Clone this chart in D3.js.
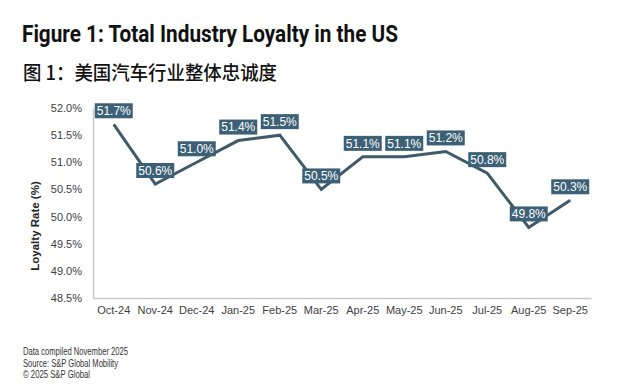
<!DOCTYPE html>
<html>
<head>
<meta charset="utf-8">
<script src="https://cdn.jsdelivr.net/npm/d3@7"></script>
<style>
    body { margin: 0; background: #fff; }
    svg { display: block; }
</style>
</head>
<body>
<div id="chart"></div>
<script>
// chart data
const months = ["Oct-24", "Nov-24", "Dec-24", "Jan-25", "Feb-25", "Mar-25",
    "Apr-25", "May-25", "Jun-25", "Jul-25", "Aug-25", "Sep-25"];
const loyalty = [51.7, 50.6, 51.0, 51.4, 51.5, 50.5, 51.1, 51.1, 51.2, 50.8, 49.8, 50.3];
const yTicks = [48.5, 49.0, 49.5, 50.0, 50.5, 51.0, 51.5, 52.0];
const footer = ["Data compiled November 2025", "Source: S&P Global Mobility", "\u00a9 2025 S&P Global"];
const footerWidths = [105, 95, 67];

const width = 620, height = 390;
const margin = {top: 108, right: 29, bottom: 92, left: 93};

const lineColor = "#3f5a6a";
const boxColor = "#3c6075";

let svg = d3.select("#chart").append("svg")
    .attr("width", width)
    .attr("height", height);

// titles
svg.append("text")
    .attr("x", 22)
    .attr("y", 42)
    .attr("font-family", "Roboto, 'Liberation Sans', sans-serif")
    .attr("font-weight", "bold")
    .attr("font-size", 23)
    .attr("fill", "#111")
    .attr("textLength", 376)
    .attr("lengthAdjust", "spacingAndGlyphs")
    .text("Figure 1: Total Industry Loyalty in the US");

svg.append("text")
    .attr("x", 23)
    .attr("y", 80)
    .attr("font-family", "'Noto Sans CJK SC', sans-serif")
    .attr("font-weight", 500)
    .attr("font-size", 19.5)
    .attr("fill", "#111")
    .attr("textLength", 254)
    .attr("lengthAdjust", "spacingAndGlyphs")
    .text("图 1：美国汽车行业整体忠诚度");

let x = d3.scaleBand()
    .domain(months)
    .range([margin.left, width - margin.right]);

let y = d3.scaleLinear()
    .domain([48.5, 52.0])
    .range([height - margin.bottom, margin.top]);

// y axis
let yAxis = d3.axisLeft(y)
    .tickValues(yTicks)
    .tickSize(0)
    .tickPadding(11)
    .tickFormat(d => d.toFixed(1) + "%");

let gy = svg.append("g")
    .attr("transform", "translate(" + margin.left + ",0)")
    .call(yAxis);
gy.select(".domain").attr("stroke", "#c8c8c8").attr("stroke-width", 1.5);
gy.selectAll("text")
    .attr("font-family", "'Liberation Sans', Arial, sans-serif")
    .attr("font-size", 11)
    .attr("fill", "#404040");

// x axis
let xAxis = d3.axisBottom(x).tickSize(0).tickPadding(8);
let gx = svg.append("g")
    .attr("transform", "translate(0," + (height - margin.bottom) + ")")
    .call(xAxis);
gx.select(".domain").attr("stroke", "#c8c8c8").attr("stroke-width", 1.5);
gx.selectAll("text")
    .attr("font-family", "'Liberation Sans', Arial, sans-serif")
    .attr("font-size", 11)
    .attr("fill", "#404040");

// axis title
svg.append("text")
    .attr("transform", "translate(39,226) rotate(-90)")
    .attr("text-anchor", "middle")
    .attr("font-family", "'Liberation Sans', Arial, sans-serif")
    .attr("font-weight", "bold")
    .attr("font-size", 11.5)
    .attr("fill", "#222")
    .text("Loyalty Rate (%)");

// line
let data = months.map((m, i) => ({month: m, value: loyalty[i]}));
let cx = d => x(d.month) + x.bandwidth() / 2;

svg.append("path")
    .datum(data)
    .attr("fill", "none")
    .attr("stroke", lineColor)
    .attr("stroke-width", 3)
    .attr("stroke-linejoin", "miter")
    .attr("d", d3.line().x(cx).y(d => y(d.value)));

// data labels
let labels = svg.selectAll(".lbl")
    .data(data)
    .enter().append("g")
    .attr("class", "lbl")
    .attr("transform", d => "translate(" + cx(d) + "," + (y(d.value) - 13.5) + ")");

labels.append("rect")
    .attr("x", -19)
    .attr("y", -7.5)
    .attr("width", 38)
    .attr("height", 15)
    .attr("fill", boxColor);

labels.append("text")
    .attr("text-anchor", "middle")
    .attr("y", 4.3)
    .attr("font-family", "'Liberation Sans', Arial, sans-serif")
    .attr("font-size", 12)
    .attr("fill", "#fff")
    .text(d => d.value.toFixed(1) + "%");

// footer
svg.selectAll(".foot")
    .data(footer)
    .enter().append("text")
    .attr("class", "foot")
    .attr("x", 23)
    .attr("y", (d, i) => 355 + i * 11.5)
    .attr("font-family", "'Liberation Sans', Arial, sans-serif")
    .attr("font-size", 10)
    .attr("fill", "#333")
    .attr("textLength", (d, i) => footerWidths[i])
    .attr("lengthAdjust", "spacingAndGlyphs")
    .text(d => d);
</script>
</body>
</html>
